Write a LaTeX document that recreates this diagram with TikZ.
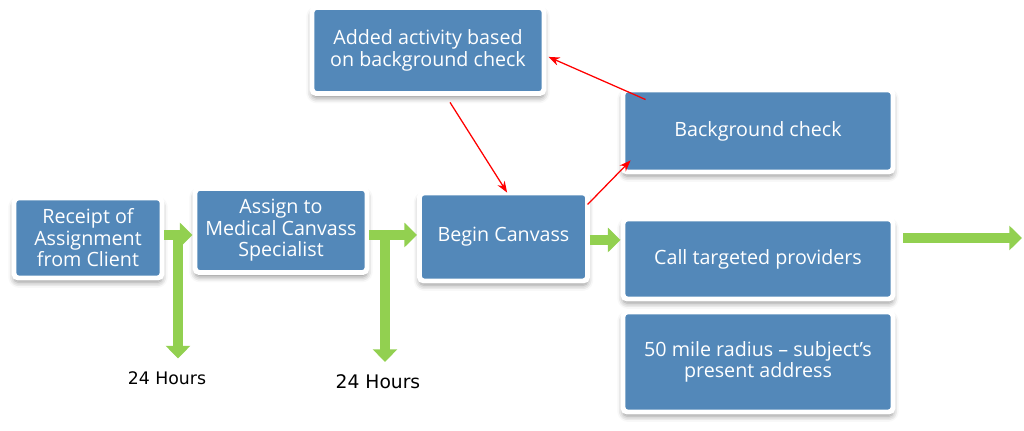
\documentclass[tikz,border=0pt]{standalone}
\usepackage{fontspec}
\setmainfont{Open Sans}
\newfontfamily\hoursfont{DejaVu Sans}
\usetikzlibrary{arrows.meta,shadows.blur,calc}
\definecolor{boxblue}{RGB}{83,136,185}
\definecolor{flowgreen}{RGB}{146,208,80}

\begin{document}
\begin{tikzpicture}[
    stepbox/.style={draw=white, line width=3.5pt, fill=boxblue, rounded corners=3pt, text=white, align=center, inner sep=0pt,
        font=\fontsize{14}{15.3}\selectfont,
        blur shadow={shadow xshift=0pt, shadow yshift=-3pt, shadow blur radius=4pt, shadow opacity=45}},
    flow/.style={flowgreen, line width=7pt, -{Triangle[length=9pt,width=17pt]}},
    link/.style={red, line width=0.9pt, -{Stealth[length=8pt,width=6pt]}},
    hours/.style={font=\hoursfont\fontsize{12.3}{14}\selectfont}
]
        \useasboundingbox (0,0) rectangle (25.6,10.775);
        % Draw the process boxes
        \node[stepbox, minimum width=3.7cm, minimum height=2.0cm] (rcpt) at (2.2,4.825) {Receipt of\\Assignment\\from Client};
        \node[stepbox, minimum width=4.3cm, minimum height=2.1cm] (assign) at (7.025,5.0125) {Assign to\\Medical Canvass\\Specialist};
        \node[stepbox, minimum width=4.2cm, minimum height=2.2cm] (begin) at (12.5875,4.85) {Begin Canvass};
        \node[stepbox, minimum width=6.75cm, minimum height=2.0cm] (call) at (18.95,4.3) {Call targeted providers};
        \node[stepbox, minimum width=6.75cm, minimum height=2.5cm] (radius) at (18.95,1.725) {50 mile radius -- subject’s\\present address};
        \node[stepbox, minimum width=6.75cm, minimum height=2.05cm] (bg) at (18.95,7.5) {Background check};
        \node[stepbox, minimum width=5.8cm, minimum height=2.15cm] (added) at (10.7,9.5125) {Added activity based\\on background check};
        % Draw the time labels
        \node[hours] (h1) at (4.175,1.325) {24 Hours};
        \node[hours, font=\hoursfont\fontsize{13.3}{15}\selectfont] (h2) at (9.45,1.225) {24 Hours};
        \coordinate (b1) at (4.45,4.9);
        \coordinate (b2) at (9.625,4.9);
        \coordinate (endpt) at (25.55,4.825);
        % Draw the green flow arrows
        \draw[flow] (rcpt.east |- b1) -- (assign.west |- b1);
        \draw[flow] (b1) -- ($(b1 |- h1.north)+(0,0.2)$);
        \draw[flow] (assign.east |- b2) -- (begin.west |- b2);
        \draw[flow] (b2) -- ($(b2 |- h2.north)+(0,0.2)$);
        \draw[flow] ($(begin.east)+(0,-0.075)$) -- ($(begin.east -| call.west)+(0,-0.075)$);
        \draw[flow] ($(call.east |- endpt)+(0.2,0)$) -- (endpt);
        % Draw the red links around the background check
        \draw[link] ($(added.south)+(0.55,-0.16)$) -- ($(begin.north)+(0.09,-0.05)$);
        \draw[link] ($(begin.north east)+(-0.06,-0.35)$) -- ($(bg.south west)+(0.25,0.35)$);
        \draw[link] ($(bg.north west)+(0.625,-0.3)$) -- ($(added.east)+(0.05,-0.16)$);
    \end{tikzpicture}
\end{document}
